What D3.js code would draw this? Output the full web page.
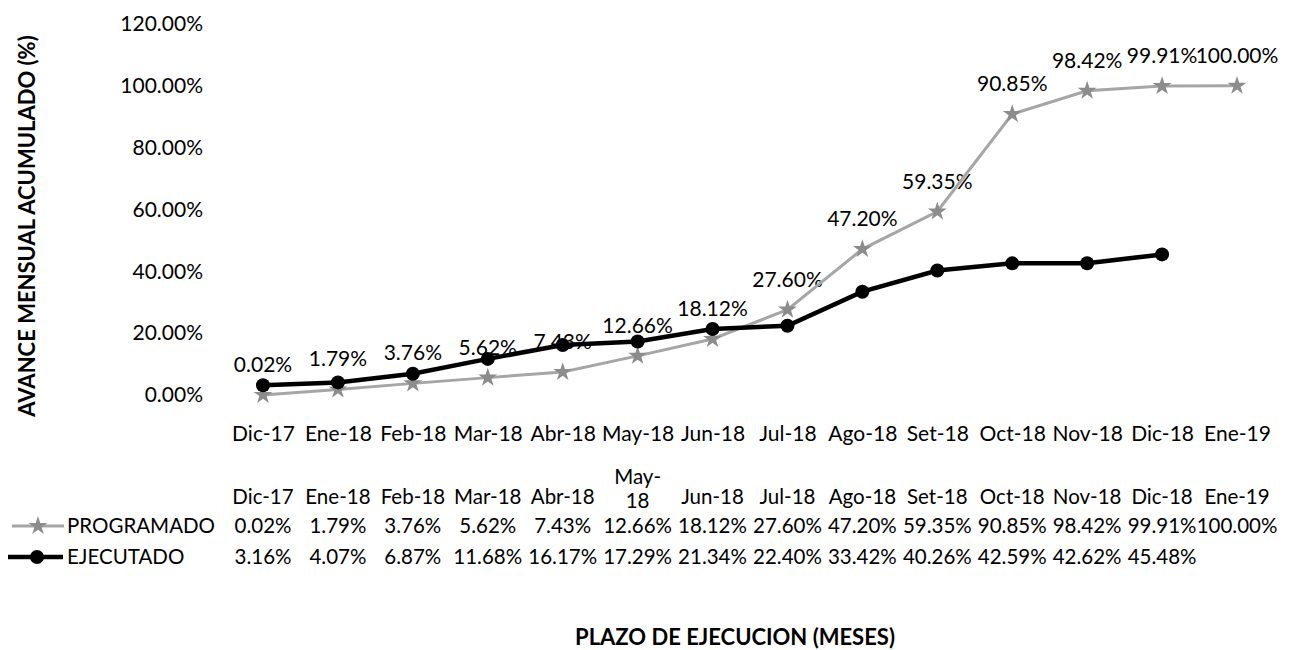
<!DOCTYPE html>
<html>
<head>
<meta charset="utf-8">
<script src="https://cdn.jsdelivr.net/npm/d3@7/dist/d3.min.js"></script>
<style>
  html, body { margin: 0; padding: 0; background: #fff; }
  svg { display: block; font-family: Lato, "Open Sans", sans-serif; }
</style>
</head>
<body>
<svg id="chart" width="1292" height="650"></svg>
<script>
// Monthly categories of the works schedule
const months = ["Dic-17", "Ene-18", "Feb-18", "Mar-18", "Abr-18", "May-18", "Jun-18",
                "Jul-18", "Ago-18", "Set-18", "Oct-18", "Nov-18", "Dic-18", "Ene-19"];
// Cumulative planned progress (%)
const programado = [0.02, 1.79, 3.76, 5.62, 7.43, 12.66, 18.12, 27.60, 47.20, 59.35, 90.85, 98.42, 99.91, 100.00];
// Cumulative executed progress (%)
const ejecutado = [3.16, 4.07, 6.87, 11.68, 16.17, 17.29, 21.34, 22.40, 33.42, 40.26, 42.59, 42.62, 45.48];
// Y axis ticks (%)
const yTicks = [0, 20, 40, 60, 80, 100, 120];

const svg = d3.select("#chart");
const fmt = v => v.toFixed(2) + "%";
const FS = 21;
const TFS = 20.5;

const x = d3.scalePoint().domain(months).range([263, 1237]);
const y = d3.scaleLinear().domain([0, 120]).range([395, 24]);

const progColor = "#a6a6a6";
const progMarker = "#8c8c8c";
const execColor = "#000";

// Y axis tick labels (no axis line)
const yAxis = d3.axisLeft(y).tickValues(yTicks).tickFormat(d => d.toFixed(2) + "%").tickSize(0).tickPadding(0);
const gy = svg.append("g").attr("transform", "translate(203,0)").call(yAxis);
gy.select(".domain").remove();
gy.selectAll("text").attr("font-size", FS).attr("fill", "#000").attr("font-family", "Lato, sans-serif");

// X axis category labels
const xAxis = d3.axisBottom(x).tickSize(0).tickPadding(0);
const gx = svg.append("g").attr("transform", "translate(0,426)").call(xAxis);
gx.select(".domain").remove();
gx.selectAll("text").attr("font-size", FS).attr("fill", "#000").attr("font-family", "Lato, sans-serif");

// Axis titles
svg.append("text")
  .attr("transform", "translate(35,226) rotate(-90)")
  .attr("text-anchor", "middle")
  .attr("font-size", 22).attr("font-weight", "bold")
  .text("AVANCE MENSUAL ACUMULADO (%)");

svg.append("text")
  .attr("x", 735).attr("y", 645)
  .attr("text-anchor", "middle")
  .attr("font-size", 22).attr("font-weight", "bold")
  .text("PLAZO DE EJECUCION (MESES)");

// Data labels for the planned series
svg.append("g").selectAll("text").data(programado).join("text")
  .attr("x", (d, i) => x(months[i]))
  .attr("y", d => y(d) - 23)
  .attr("text-anchor", "middle")
  .attr("font-size", FS)
  .text(d => fmt(d));

// Planned series
const line = d3.line().x(d => x(d.m)).y(d => y(d.v));
const progData = programado.map((v, i) => ({ m: months[i], v }));
const execData = ejecutado.map((v, i) => ({ m: months[i], v }));

svg.append("path").datum(progData)
  .attr("d", line).attr("fill", "none")
  .attr("stroke", progColor).attr("stroke-width", 3);
const star = d3.symbol().type(d3.symbolStar).size(110);
svg.append("g").selectAll("path").data(progData).join("path")
  .attr("transform", d => `translate(${x(d.m)},${y(d.v)})`)
  .attr("d", star).attr("fill", progMarker);

// Executed series
svg.append("path").datum(execData)
  .attr("d", line).attr("fill", "none")
  .attr("stroke", execColor).attr("stroke-width", 4.5);
svg.append("g").selectAll("circle").data(execData).join("circle")
  .attr("cx", d => x(d.m)).attr("cy", d => y(d.v)).attr("r", 7)
  .attr("fill", execColor);

// Data table below the chart
const table = svg.append("g").attr("font-size", TFS);
const headerY = 497;
table.selectAll("text.hdr").data(months).join("text")
  .attr("class", "hdr")
  .attr("text-anchor", "middle")
  .each(function (m) {
    const t = d3.select(this);
    const cx = x(m);
    if (m === "May-18") {
      t.append("tspan").attr("x", cx).attr("y", headerY - 13).text("May-");
      t.append("tspan").attr("x", cx).attr("y", headerY + 11).text("18");
    } else {
      t.attr("x", cx).attr("y", headerY + 7).text(m);
    }
  });

const rows = [
  { name: "PROGRAMADO", values: programado, y: 533 },
  { name: "EJECUTADO", values: ejecutado, y: 564 }
];
rows.forEach(r => {
  table.append("g").selectAll("text").data(r.values).join("text")
    .attr("x", (d, i) => x(months[i]))
    .attr("y", r.y)
    .attr("text-anchor", "middle")
    .text(d => fmt(d));
  table.append("text").attr("x", 67).attr("y", r.y).text(r.name);
});

// Legend keys in the table
const kp = 526, ke = 557;
table.append("line").attr("x1", 12).attr("x2", 64).attr("y1", kp).attr("y2", kp)
  .attr("stroke", progColor).attr("stroke-width", 3);
table.append("path").attr("transform", `translate(38,${kp})`).attr("d", star).attr("fill", progMarker);
table.append("line").attr("x1", 8).attr("x2", 63).attr("y1", ke).attr("y2", ke)
  .attr("stroke", execColor).attr("stroke-width", 4.5);
table.append("circle").attr("cx", 37).attr("cy", ke).attr("r", 7).attr("fill", execColor);
</script>
</body>
</html>
